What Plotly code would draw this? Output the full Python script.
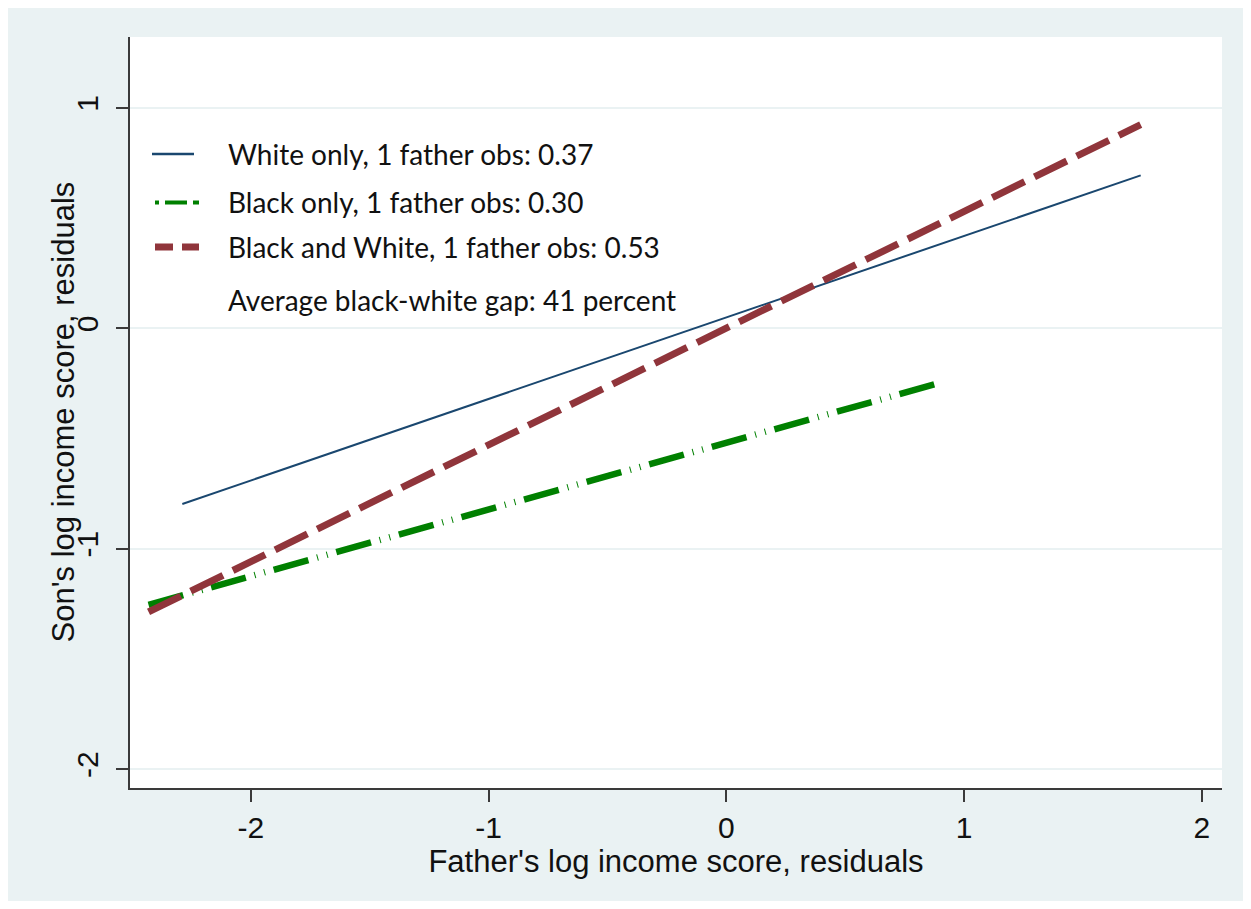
import plotly.graph_objects as go

# ---- data ----
series_names = [
    "White only, 1 father obs: 0.37",
    "Black only, 1 father obs: 0.30",
    "Black and White, 1 father obs: 0.53",
]
note_text = "Average black-white gap: 41 percent"

x_white = [-2.288, 1.743]
y_white = [-0.797, 0.694]

x_black = [-2.43, 0.90]
y_black = [-1.255, -0.247]

x_both = [-2.43, 1.743]
y_both = [-1.287, 0.924]

x_ticks = [-2, -1, 0, 1, 2]
y_ticks = [-2, -1, 0, 1]

x_title = "Father's log income score, residuals"
y_title = "Son's log income score, residuals"

# ---- styles ----
BG = "#eaf2f3"
C_WHITE = "#1a476f"
C_BLACK = "#008000"
C_BOTH = "#90353b"
AXC = "#3a3a3a"
TICK_FONT = dict(family="Liberation Sans, Arial, sans-serif", size=30, color="#111111")
TITLE_FONT = dict(family="Liberation Sans, Arial, sans-serif", size=31, color="#111111")
LEG_FONT = dict(family="Lato, Carlito, Calibri, sans-serif", size=28, color="#111111")

W, H = 1243, 893
ML, MR, MT, MB = 122, 29, 29, 113

fig = go.Figure()
fig.add_trace(go.Scatter(x=x_white, y=y_white, mode="lines", name=series_names[0],
                         line=dict(color=C_WHITE, width=2)))
fig.add_trace(go.Scatter(x=x_black, y=y_black, mode="lines", name=series_names[1],
                         line=dict(color=C_BLACK, width=6.5, dash="36px,9px,1px,9px,1px,9px")))
fig.add_trace(go.Scatter(x=x_both, y=y_both, mode="lines", name=series_names[2],
                         line=dict(color=C_BOTH, width=7, dash="36px,11px")))

# pixel helpers (paper coords)
pw, ph = W - ML - MR, H - MT - MB
def px(xp):
    return (xp - ML) / pw
def py(yp):
    return 1 - (yp - MT) / ph

shapes = []
# light outer background and white plot area
shapes.append(dict(type="rect", xref="paper", yref="paper", layer="below",
                   x0=px(0), x1=px(W), y0=py(H), y1=py(0),
                   fillcolor=BG, line=dict(width=0)))
shapes.append(dict(type="rect", xref="paper", yref="paper", layer="below",
                   x0=0, x1=1, y0=0, y1=1, fillcolor="white", line=dict(width=0)))

# legend samples
leg_rows = [146, 194.5, 239]
shapes.append(dict(type="line", xref="paper", yref="paper",
                   x0=px(144), x1=px(186), y0=py(leg_rows[0]), y1=py(leg_rows[0]),
                   line=dict(color=C_WHITE, width=2.5)))
shapes.append(dict(type="line", xref="paper", yref="paper",
                   x0=px(147), x1=px(191), y0=py(leg_rows[1]), y1=py(leg_rows[1]),
                   line=dict(color=C_BLACK, width=4, dash="4px,6px,22px,6px,6px,100px")))
shapes.append(dict(type="line", xref="paper", yref="paper",
                   x0=px(147), x1=px(191), y0=py(leg_rows[2]), y1=py(leg_rows[2]),
                   line=dict(color=C_BOTH, width=7, dash="18px,9px,18px,100px")))

annotations = []
for name, yr in zip(series_names + [note_text], leg_rows + [292]):
    annotations.append(dict(x=px(218), y=py(yr), xref="paper", yref="paper",
                            xanchor="left", yanchor="middle", text=name,
                            showarrow=False, font=LEG_FONT))
# y-axis title
annotations.append(dict(x=px(55), y=0.5, xref="paper", yref="paper",
                        xanchor="center", yanchor="middle", textangle=-90,
                        text=y_title, showarrow=False, font=TITLE_FONT))

fig.update_layout(
    width=W, height=H,
    margin=dict(l=ML, r=MR, t=MT, b=MB, pad=0),
    paper_bgcolor="white",
    plot_bgcolor="rgba(0,0,0,0)",
    showlegend=False,
    shapes=shapes,
    annotations=annotations,
    xaxis=dict(range=[-2.508, 2.085], tickvals=x_ticks, ticktext=[str(v) for v in x_ticks],
               showgrid=False, zeroline=False, showline=True, linecolor=AXC, linewidth=2,
               ticks="outside", ticklen=12, tickwidth=2, tickcolor=AXC,
               tickfont=TICK_FONT,
               title=dict(text=x_title, font=TITLE_FONT, standoff=2)),
    yaxis=dict(range=[-2.086, 1.322], tickvals=y_ticks, ticktext=[str(v) for v in y_ticks],
               showgrid=True, gridcolor=BG, gridwidth=2, zeroline=False,
               showline=True, linecolor=AXC, linewidth=2,
               ticks="outside", ticklen=12, tickwidth=2, tickcolor=AXC,
               tickfont=TICK_FONT, tickangle=-90, ticklabelstandoff=6),
)

fig.write_html("out.html")
